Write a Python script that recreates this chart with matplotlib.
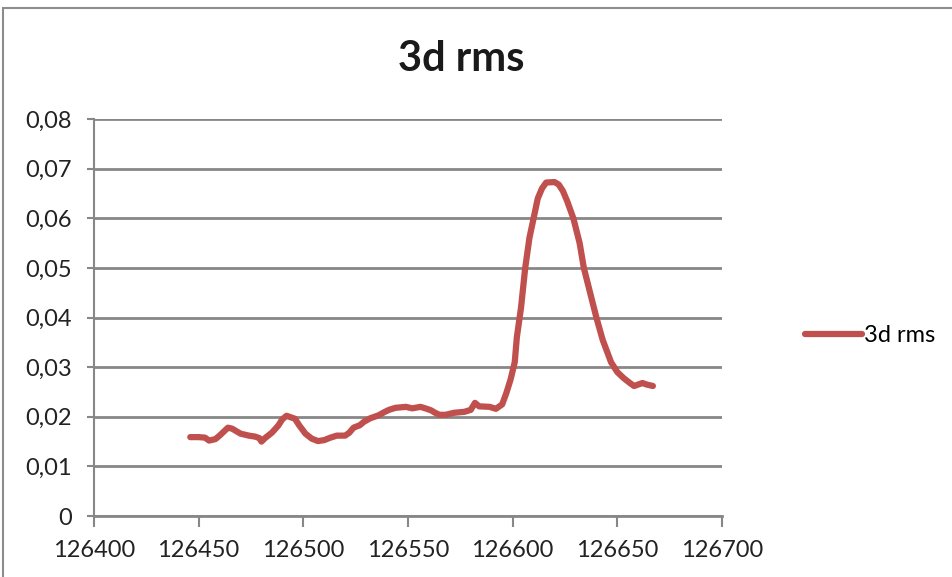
import matplotlib.pyplot as plt
from matplotlib.patches import Rectangle

# values
x = [126446, 126450, 126453, 126455, 126458, 126460, 126462, 126464, 126466,
     126468, 126470, 126472, 126474, 126477, 126479, 126480, 126482, 126485,
     126488, 126490, 126492, 126494, 126496, 126498, 126501, 126504, 126507,
     126510, 126513, 126516, 126520, 126522, 126524, 126527, 126529, 126532,
     126536, 126539, 126541, 126544, 126549, 126552, 126556, 126559, 126561,
     126563, 126565, 126568, 126572, 126577, 126580, 126582, 126584, 126589,
     126592, 126595, 126597, 126599, 126601, 126602, 126604, 126606, 126608,
     126610, 126612, 126614, 126616, 126620, 126622, 126624, 126626, 126629,
     126632, 126634, 126637, 126640, 126643, 126647, 126650, 126653, 126656,
     126658, 126660, 126662, 126664, 126667]
y = [0.0159, 0.0159, 0.0158, 0.0152, 0.0155, 0.0162, 0.0170, 0.0178, 0.0176,
     0.0171, 0.0166, 0.0164, 0.0162, 0.0160, 0.0157, 0.0150, 0.0158, 0.0168,
     0.0182, 0.0195, 0.0202, 0.0199, 0.0196, 0.0183, 0.0166, 0.0156, 0.0151,
     0.0153, 0.0158, 0.0162, 0.0162, 0.0168, 0.0178, 0.0183, 0.0190, 0.0197,
     0.0203, 0.0210, 0.0214, 0.0218, 0.0220, 0.0217, 0.0220, 0.0216, 0.0213,
     0.0208, 0.0204, 0.0204, 0.0208, 0.0210, 0.0214, 0.0228, 0.0221, 0.0220,
     0.0216, 0.0225, 0.0248, 0.0275, 0.0310, 0.0360, 0.0420, 0.0500, 0.0560,
     0.0600, 0.0640, 0.0660, 0.0672, 0.0673, 0.0668, 0.0655, 0.0635, 0.0600,
     0.0550, 0.0500, 0.0450, 0.0400, 0.0355, 0.0310, 0.0290, 0.0278, 0.0268,
     0.0262, 0.0265, 0.0268, 0.0265, 0.0262]

xticks = [126400, 126450, 126500, 126550, 126600, 126650, 126700]
yticks = [0, 0.01, 0.02, 0.03, 0.04, 0.05, 0.06, 0.07, 0.08]
ylabels = ["0"] + ["%.2f" % v for v in yticks[1:]]
ylabels = [s.replace(".", ",") for s in ylabels]

plt.rcParams['font.family'] = ['Lato', 'DejaVu Sans']
grid_col = '#878787'
red = '#c0504d'

fig = plt.figure(figsize=(9.53, 5.77), dpi=100)
# outer chart frame (only top and left edges visible in the crop)
fig.patches.append(Rectangle((0.0035, -0.05), 1.1, 1.05 - 0.014,
                             transform=fig.transFigure, fill=False,
                             edgecolor='#8c8c8c', linewidth=1.5))

ax = fig.add_axes([0.0986, 0.1057, 0.659, 0.688])
ax.plot(x, y, color=red, linewidth=4.5, solid_capstyle='round',
        solid_joinstyle='round', label='3d rms')

ax.set_xlim(126400, 126700)
ax.set_ylim(0, 0.08)
ax.set_xticks(xticks)
ax.set_xticklabels([str(v) for v in xticks])
ax.set_yticks(yticks)
ax.set_yticklabels(ylabels)
ax.yaxis.grid(True, color=grid_col, linewidth=2)
ax.set_axisbelow(True)
for s in ['top', 'right']:
    ax.spines[s].set_visible(False)
ax.spines['left'].set_color(grid_col)
ax.spines['bottom'].set_color(grid_col)
ax.spines['left'].set_linewidth(1.5)
ax.spines['bottom'].set_linewidth(2)
ax.tick_params(axis='x', length=8, width=1.5, color=grid_col,
               labelsize=17, pad=9, labelcolor='#222222')
ax.tick_params(axis='y', length=5, width=1.5, color=grid_col,
               labelsize=17, pad=11, labelcolor='#222222')

fig.text(0.4845, 0.898, '3d rms', ha='center', va='center',
         fontsize=30, fontweight='bold', color='#1a1a1a')

leg = fig.legend(loc='center left', bbox_to_anchor=(0.845, 0.418),
                 frameon=False, fontsize=17, handlelength=2.4,
                 handletextpad=0.1, borderpad=0, borderaxespad=0)

fig.savefig('out.png', dpi=100)
